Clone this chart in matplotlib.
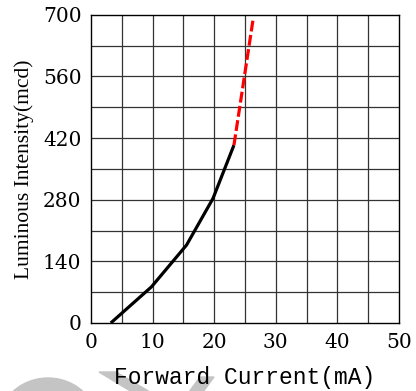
import numpy as np
import matplotlib
matplotlib.use("Agg")
from matplotlib import pyplot as plt
from matplotlib.patches import Polygon, Wedge

# measured curve (forward current vs luminous intensity)
current = [3.2, 9.8, 15.5, 19.8, 23.2]
intensity = [0, 82, 177, 283, 404]
# extrapolated part (red dashed)
current_ext = [23.2, 26.3]
intensity_ext = [404, 689]

xticks = [0, 10, 20, 30, 40, 50]
yticks = [0, 140, 280, 420, 560, 700]

W, H = 416, 391
fig = plt.figure(figsize=(W / 100, H / 100), dpi=100)

# faint watermark pieces peeking in at the bottom edge (pixel coords -> figure fraction)
def px(x, y):
    return (x / W, 1 - y / H)

wm = '#c4c4c4'
fig.patches.append(Wedge(px(48, 425), 50 / W, 30, 150, width=16 / W,
                         transform=fig.transFigure, color=wm, zorder=-5))
fig.patches.append(Polygon([px(99, 372), px(116, 372), px(150, 392), px(132, 392)],
                           closed=True, transform=fig.transFigure, color=wm, zorder=-5))
fig.patches.append(Polygon([px(200, 377), px(214, 377), px(203, 392), px(189, 392)],
                           closed=True, transform=fig.transFigure, color=wm, zorder=-5))

ax = fig.add_axes([0.219, 0.174, 0.740, 0.788])
ax.patch.set_alpha(0)

# grid every 5 mA and every 70 mcd
for gx in np.arange(5, 50, 5):
    ax.axvline(gx, color='#333333', lw=0.9, zorder=1)
for gy in np.arange(70, 700, 70):
    ax.axhline(gy, color='#333333', lw=0.9, zorder=1)

ax.plot(current, intensity, color='black', lw=2.3, solid_capstyle='butt', zorder=3)
ax.plot(current_ext, intensity_ext, color='red', lw=2.3, dashes=(3.4, 1.1), zorder=3)

ax.set_xlim(0, 50)
ax.set_ylim(0, 700)
ax.set_xticks(xticks)
ax.set_yticks(yticks)
ax.tick_params(length=0, pad=7)
for lab in ax.get_xticklabels() + ax.get_yticklabels():
    lab.set_fontfamily('DejaVu Serif')
    lab.set_fontsize(14.5)
for s in ax.spines.values():
    s.set_color('black')
    s.set_linewidth(1.0)

ax.set_xlabel('Forward Current(mA)', family='Liberation Mono', fontsize=16.5, labelpad=10)
ax.set_ylabel('Luminous Intensity(mcd)', family='Liberation Serif', fontsize=15.5, labelpad=6)

fig.savefig('out.png', dpi=100)
